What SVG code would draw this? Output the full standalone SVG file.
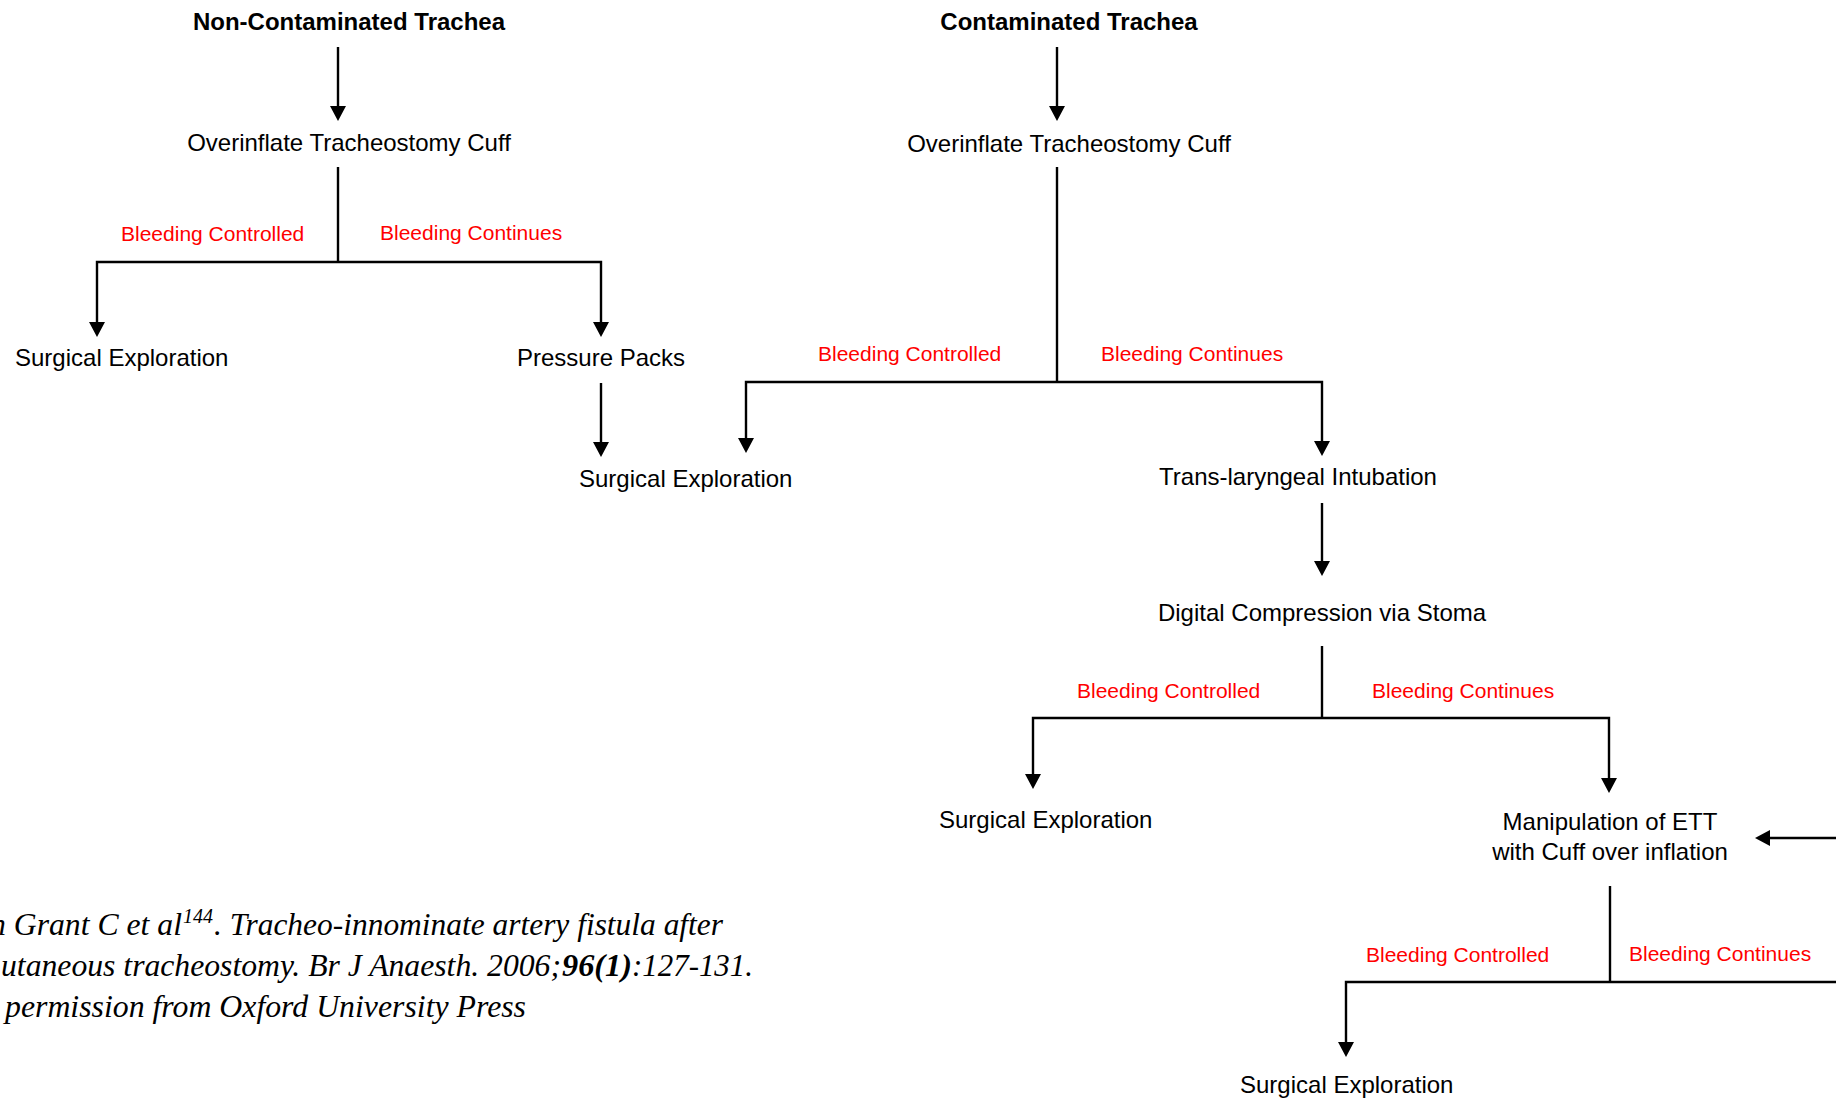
<svg xmlns="http://www.w3.org/2000/svg" width="1836" height="1099" viewBox="0 0 1836 1099">
<style>
.n{font-family:"Liberation Sans",Arial,sans-serif;font-size:24px;fill:#000}
.c{text-anchor:middle}
.t{font-weight:bold}
.l{font-family:"Liberation Sans",Arial,sans-serif;font-size:21px;fill:#ff0000}
.cite{font-family:"Liberation Serif","Times New Roman",serif;font-style:italic;font-size:31px;fill:#000}
.e{fill:none;stroke:#000;stroke-width:2.4;stroke-linejoin:miter}
.a{marker-end:url(#ah)}
</style>
<defs>
<marker id="ah" markerUnits="userSpaceOnUse" markerWidth="15" markerHeight="16" viewBox="0 0 15 16" refX="11" refY="8" orient="auto"><path d="M0,0 L15,8 L0,16 z" fill="#000"/></marker>
</defs>
<rect width="1836" height="1099" fill="#fff"/>

<g id="connectors">
<path class="e a" d="M338,47 V117"/>
<path class="e" d="M338,167 V262"/>
<path class="e a" d="M338,262 H97 V333"/>
<path class="e a" d="M338,262 H601 V333"/>
<path class="e a" d="M601,383 V453"/>
<path class="e a" d="M1057,47 V117"/>
<path class="e" d="M1057,167 V382"/>
<path class="e a" d="M1057,382 H746 V449"/>
<path class="e a" d="M1057,382 H1322 V452"/>
<path class="e a" d="M1322,503 V572"/>
<path class="e" d="M1322,646 V718"/>
<path class="e a" d="M1322,718 H1033 V785"/>
<path class="e a" d="M1322,718 H1609 V789"/>
<path class="e a" d="M1840,838 H1759"/>
<path class="e" d="M1610,886 V982"/>
<path class="e a" d="M1610,982 H1346 V1053"/>
<path class="e" d="M1610,982 H1840"/>
</g>

<g id="labels">
<text class="l" x="121" y="241">Bleeding Controlled</text>
<text class="l" x="380" y="240">Bleeding Continues</text>
<text class="l" x="818" y="361">Bleeding Controlled</text>
<text class="l" x="1101" y="361">Bleeding Continues</text>
<text class="l" x="1077" y="698">Bleeding Controlled</text>
<text class="l" x="1372" y="698">Bleeding Continues</text>
<text class="l" x="1366" y="962">Bleeding Controlled</text>
<text class="l" x="1629" y="961">Bleeding Continues</text>
</g>

<g id="n-noncontaminated"><text class="n c t" x="349" y="30">Non-Contaminated Trachea</text></g>
<g id="n-contaminated"><text class="n c t" x="1069" y="30">Contaminated Trachea</text></g>
<g id="n-overinflate-left"><text class="n c" x="349" y="151">Overinflate Tracheostomy Cuff</text></g>
<g id="n-overinflate-right"><text class="n c" x="1069" y="152">Overinflate Tracheostomy Cuff</text></g>
<g id="n-surgical-1"><text class="n" x="15" y="366">Surgical Exploration</text></g>
<g id="n-pressure"><text class="n c" x="601" y="366">Pressure Packs</text></g>
<g id="n-surgical-2"><text class="n" x="579" y="487">Surgical Exploration</text></g>
<g id="n-translaryngeal"><text class="n c" x="1298" y="485">Trans-laryngeal Intubation</text></g>
<g id="n-digital"><text class="n c" x="1322" y="621">Digital Compression via Stoma</text></g>
<g id="n-surgical-3"><text class="n" x="939" y="828">Surgical Exploration</text></g>
<g id="n-manipulation"><text class="n c" x="1610" y="830">Manipulation of ETT</text><text class="n c" x="1610" y="860">with Cuff over inflation</text></g>
<g id="n-surgical-4"><text class="n" x="1240" y="1093">Surgical Exploration</text></g>

<g id="citation">
<text class="cite" x="-10" y="935" textLength="192" lengthAdjust="spacingAndGlyphs">n Grant C et al</text>
<text class="cite" x="183" y="923" style="font-size:20px" textLength="30" lengthAdjust="spacingAndGlyphs">144</text>
<text class="cite" x="214" y="935" textLength="509" lengthAdjust="spacingAndGlyphs">. Tracheo-innominate artery fistula after</text>
<text class="cite" x="1" y="976" textLength="560" lengthAdjust="spacingAndGlyphs">utaneous tracheostomy. Br J Anaesth. 2006;</text>
<text class="cite" x="562" y="976" style="font-weight:bold" textLength="70" lengthAdjust="spacingAndGlyphs">96(1)</text>
<text class="cite" x="632" y="976" textLength="121" lengthAdjust="spacingAndGlyphs">:127-131.</text>
<text class="cite" x="5" y="1017" textLength="521" lengthAdjust="spacingAndGlyphs">permission from Oxford University Press</text>
</g>
</svg>
